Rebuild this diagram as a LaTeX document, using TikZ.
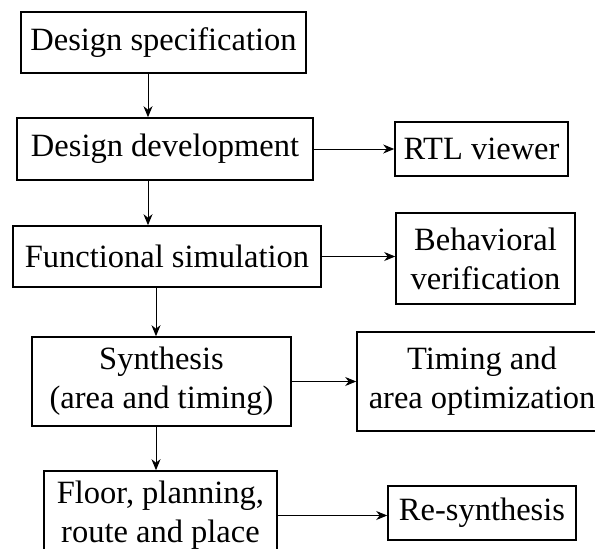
\documentclass[tikz,border=0pt]{standalone}
\usepackage{fontspec}
\setmainfont{Liberation Serif}
\usetikzlibrary{arrows.meta,calc}
\tikzset{
  box/.style={draw, line width=1.6pt, inner sep=0pt, align=center,
    font=\fontsize{32.5}{39}\selectfont},
  arr/.style={draw, line width=0.9pt, -{Stealth[length=11pt,width=9pt,inset=3.5pt]}}
}
\begin{document}
\begin{tikzpicture}[x=1pt,y=-1pt]
  \useasboundingbox (0,0) rectangle (595,549);
  \clip (0,0) rectangle (595,549);
  % main flow on the left
  \node[box, minimum width=285pt, minimum height=61pt] (spec) at (163.5,42.5) {Design specification};
  \node[box, minimum width=296pt, minimum height=62pt] (dev) at (165,149) {Design development};
  \node[box, minimum width=308pt, minimum height=61pt] (func) at (167,256.5) {Functional simulation};
  \node[box, minimum width=259pt, minimum height=89pt] (syn) at (161.5,381.5) {Synthesis\\(area and timing)};
  \node[box, minimum width=233pt, minimum height=89pt] (floor) at (160.5,515.5) {Floor, planning,\\route and place};
  % outputs on the right
  \node[box, minimum width=173pt, minimum height=54pt] (rtl) at (481.5,149) {RTL viewer};
  \node[box, minimum width=179pt, minimum height=91pt] (beh) at (485.5,258.5) {Behavioral\\verification};
  \node[box, minimum width=250pt, minimum height=99pt] (tim) at (482,381.5) {Timing and\\area optimization};
  \node[box, minimum width=188pt, minimum height=54pt] (res) at (482,513) {Re-synthesis};
  % columns of the vertical connectors
  \coordinate (c1) at (148,0);
  \coordinate (c2) at (156,0);
  \draw[arr] (spec.south -| c1) -- (dev.north -| c1);
  \draw[arr] (dev.south -| c1) -- (func.north -| c1);
  \draw[arr] (func.south -| c2) -- (syn.north -| c2);
  \draw[arr] (syn.south -| c2) -- (floor.north -| c2);
  % side connectors
  \draw[arr] (dev.east) -- (dev.east -| rtl.west);
  \draw[arr] (func.east) -- (func.east -| beh.west);
  \draw[arr] (syn.east) -- (syn.east -| tim.west);
  \draw[arr] (floor.east) -- (floor.east -| res.west);
\end{tikzpicture}
\end{document}
